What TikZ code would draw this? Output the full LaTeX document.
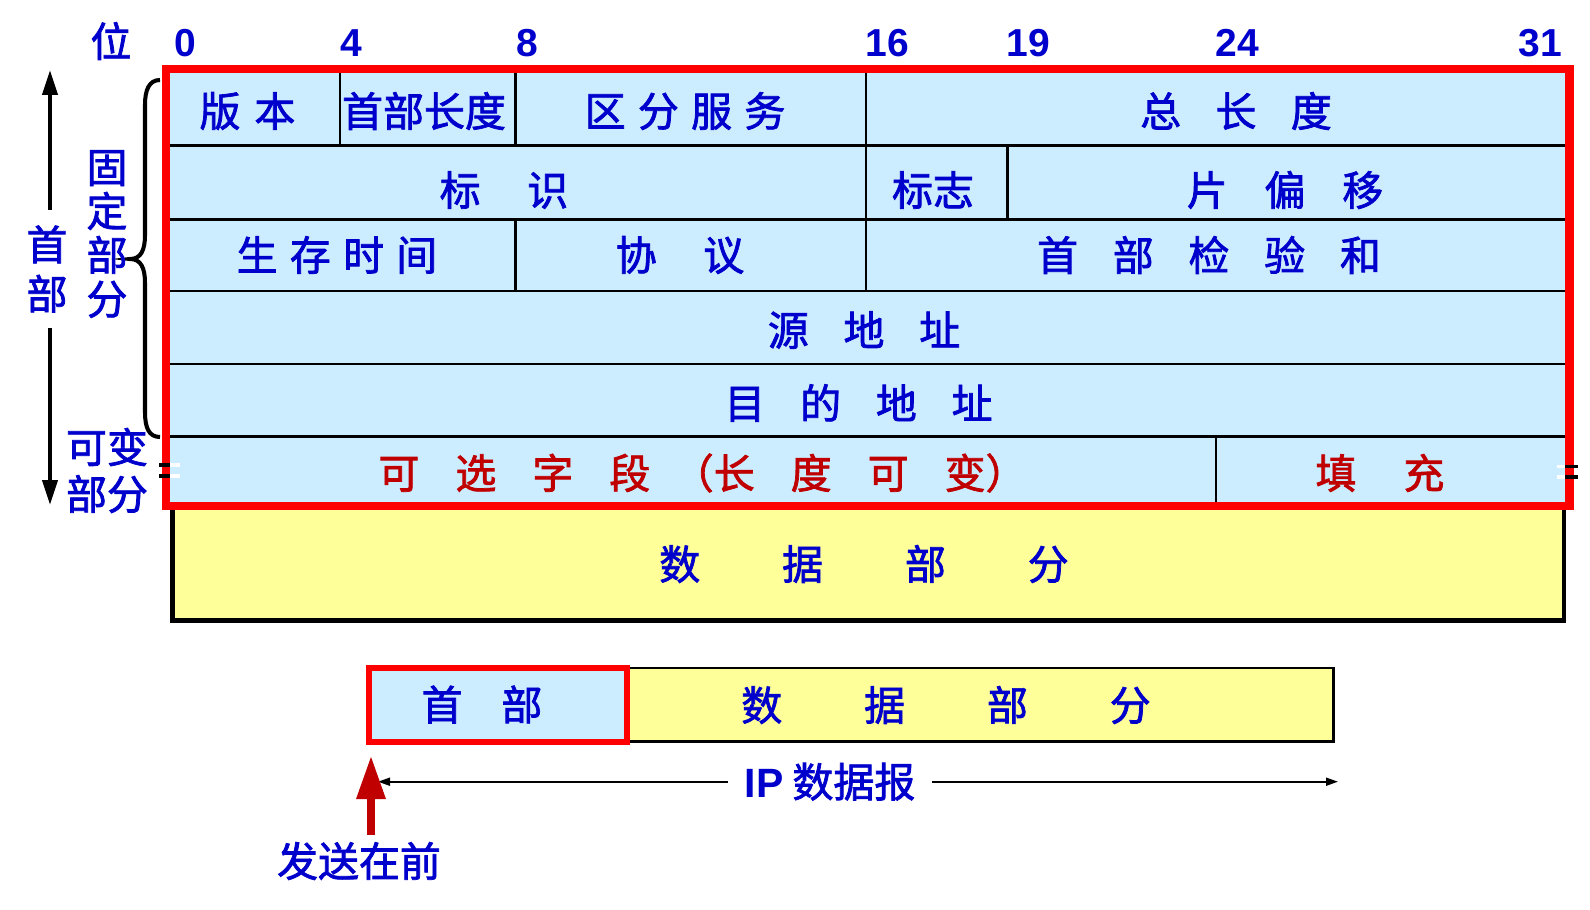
\documentclass[tikz,border=0pt]{standalone}
\usepackage{fontspec}
\setmainfont{Liberation Sans}
\newfontfamily\cjk{Noto Sans CJK SC}[FakeBold=1.8]
\newfontfamily\lsans{Liberation Sans}
\usetikzlibrary{arrows.meta}
\definecolor{txtblue}{HTML}{0000CC}
\definecolor{txtred}{HTML}{C00000}
\definecolor{cellblue}{HTML}{CCECFF}
\definecolor{datayellow}{HTML}{FFFF99}
\definecolor{framered}{HTML}{FF0000}
\newcommand\chgap[1]{\hspace{#1em}}

\begin{document}
\begin{tikzpicture}[x=0.02cm, y=-0.02cm,
    every node/.style={inner sep=0pt, text=txtblue,
                       font=\fontsize{23.3}{28}\cjk},
    bitno/.style={font=\fontsize{22.2}{26}\lsans\bfseries},
    redtxt/.style={text=txtred},
    vlabel/.style={align=center},
    grid/.style={line width=1.4pt},
    datbox/.style={draw, line width=2.8pt, fill=datayellow},
    hdrbox/.style={draw=framered, line width=3.4pt, fill=cellblue},
    frame/.style={draw=framered, line width=5.1pt},
    vertarrow/.style={line width=2.3pt, -{Triangle[length=5mm, width=3mm]}},
    sendarrow/.style={txtred, line width=5.1pt, -{Triangle[length=8.8mm, width=5.4mm]}},
    ipline/.style={line width=1pt, {Triangle[length=2.4mm, width=1.6mm]}-{Triangle[length=2.4mm, width=1.6mm]}}
  ]
  \useasboundingbox (0,0) rectangle (1590,910);

  \node (wei) at (111,41) {位};
  \foreach \b/\x in {0/185, 4/351, 8/527, 16/887, 19/1028, 24/1237, 31/1540}
    \node[bitno] (bit\b) at (\x,43.3) {\b};

  \fill[cellblue] (166,69) rectangle (1569.5,506);
  \foreach \y in {145.7, 219.3, 291, 364, 436.7}
    \draw[grid] (166,\y) -- (1569.5,\y);
  \draw[grid] (340,69) -- (340,145.7) (515.5,69) -- (515.5,145.7)
              (866,69) -- (866,291) (1007.5,145.7) -- (1007.5,219.3)
              (515.5,219.3) -- (515.5,291) (1216,436.7) -- (1216,506);
  \draw[datbox] (172.5,506) rectangle (1564,620.5);
  \draw[frame] (166,69) rectangle (1569.5,506);

  \draw[line width=2pt] (159,465) -- (170,465) (159,476) -- (170,476)
                        (1565,466.5) -- (1578,466.5) (1565,477) -- (1578,477);
  \draw[white, line width=2pt] (170,465) -- (180,465) (170,476) -- (180,476)
                        (1557,466.5) -- (1565,466.5) (1557,477) -- (1565,477);

  \node (ver)  at (247.5,111) {版\chgap{.34}本};
  \node (ihl)  at (424,111)   {首部长度};
  \node (tos)  at (685,111)   {区\chgap{.3}分\chgap{.3}服\chgap{.3}务};
  \node (tlen) at (1236,111)  {总\chgap{.84}长\chgap{.84}度};
  \node (ident) at (504,190)  {标\chgap{1.14}识};
  \node (flags) at (933,190)  {标志};
  \node (foff) at (1285,190)  {片\chgap{.9}偏\chgap{.9}移};
  \node (ttl)  at (337,255)   {生\chgap{.3}存\chgap{.3}时\chgap{.3}间};
  \node (proto) at (680,255)  {协\chgap{1.14}议};
  \node (csum) at (1209,255)  {首\chgap{.85}部\chgap{.85}检\chgap{.85}验\chgap{.85}和};
  \node (src)  at (864,330)   {源\chgap{.85}地\chgap{.85}址};
  \node (dst)  at (858.5,403) {目\chgap{.85}的\chgap{.85}地\chgap{.85}址};
  \node[redtxt] (opts) at (702.5,473)
    {可\chgap{.88}选\chgap{.88}字\chgap{.88}段\chgap{.55}（长\chgap{.88}度\chgap{.88}可\chgap{.88}变）};
  \node[redtxt] (pad) at (1380,473) {填\chgap{1.15}充};
  \node (data) at (864,564) {数\chgap{2}据\chgap{2}部\chgap{2}分};

  \draw[line width=2.3pt] (160,80) .. controls (149,80) and (145,90) .. (145,105)
    -- (145,235) .. controls (145,250) and (141,259) .. (130,259)
    .. controls (141,259) and (145,268) .. (145,283)
    -- (145,412) .. controls (145,428) and (149,437) .. (160,437);

  \node[vlabel, inner ysep=0.3cm, font=\fontsize{23.3}{28.1}\cjk] (hdlbl) at (47,269) {首\\部};
  \node[vlabel, font=\fontsize{23.3}{25}\cjk] (fixlbl) at (107,234) {固\\定\\部\\分};
  \node[vlabel, font=\fontsize{23.3}{26.7}\cjk] (varlbl) at (107,470.5) {可变\\部分};
  \coordinate (hdtop) at (50,70);
  \coordinate (hdbot) at (50,505);
  \draw[vertarrow] (hdtop |- hdlbl.north) -- (hdtop);
  \draw[vertarrow] (hdbot |- hdlbl.south) -- (hdbot);

  \draw[datbox, line width=1.5pt] (627,668) rectangle (1333.7,741.6);
  \draw[hdrbox] (369,668) rectangle (627,741.7);
  \node (hdr)  at (482,704.5) {首\chgap{.95}部};
  \node (dat2) at (946,705)   {数\chgap{2}据\chgap{2}部\chgap{2}分};

  \coordinate (ipleft) at (378,781.7);
  \coordinate (ipright) at (1338,781.7);
  \draw[ipline] (ipleft) -- (ipright);
  \node[fill=white, inner xsep=0.34cm, inner ysep=2pt] (iplbl) at (830,781.7) {{\lsans\bfseries IP} 数据报};

  \coordinate (sendtip) at (371,755);
  \node[inner ysep=0.14cm] (sendlbl) at (359,861) {发送在前};
  \draw[sendarrow] (sendtip |- sendlbl.north) -- (sendtip);
\end{tikzpicture}
\end{document}
